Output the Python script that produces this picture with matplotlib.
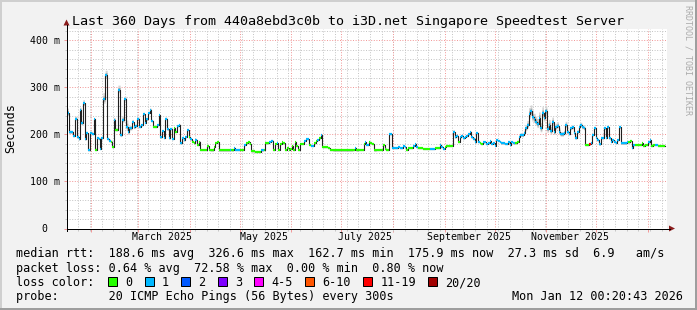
import numpy as np
import matplotlib
matplotlib.use("Agg")
import matplotlib.pyplot as plt
from matplotlib.lines import Line2D
from matplotlib.patches import Rectangle, Polygon
import matplotlib.transforms as mtransforms
from datetime import datetime, timedelta

W, H, DPI = 697, 310, 100

# ---------------- data ----------------
end_time = datetime(2026, 1, 12, 0, 20, 43)
span_days = 360
start_time = end_time - timedelta(days=span_days)

# start day (since start_time) of each consolidated step, median rtt (ms), lost pings (of 20), smoke spread (ms)
seg_day = [
    0.0, 1.2, 3.8, 4.8, 6.2, 7.2, 7.8, 8.8, 9.8, 10.8,
    11.8, 12.6, 13.8, 15.4, 16.2, 17.0, 18.0, 19.4, 20.2, 20.8,
    21.8, 23.2, 24.4, 25.4, 26.4, 27.4, 28.2, 29.2, 30.8, 32.2,
    33.2, 34.6, 35.8, 36.8, 37.6, 39.2, 40.2, 41.2, 42.2, 43.4,
    44.8, 45.8, 46.8, 47.8, 48.8, 49.8, 50.8, 51.8, 54.2, 55.4,
    56.2, 57.2, 58.2, 59.2, 60.2, 61.4, 62.2, 63.2, 64.2, 65.2,
    66.2, 67.2, 68.2, 69.2, 70.2, 71.2, 72.2, 73.2, 74.2, 75.2,
    76.2, 77.2, 78.2, 79.2, 80.2, 83.0, 84.2, 85.2, 86.2, 88.2,
    89.0, 90.0, 91.2, 97.8, 98.8, 100.2, 101.2, 102.8, 103.8, 106.4,
    107.4, 108.8, 109.8, 110.8, 112.8, 116.8, 118.2, 119.2, 121.4, 122.8,
    124.0, 125.0, 126.0, 127.0, 128.0, 129.0, 130.0, 131.0, 132.2, 133.2,
    134.2, 135.2, 136.0, 136.8, 137.8, 138.8, 139.8, 142.4, 143.4, 145.4,
    146.4, 148.4, 149.4, 150.4, 151.4, 152.4, 153.4, 154.4, 156.8, 157.8,
    159.8, 171.8, 172.8, 173.8, 174.8, 176.8, 178.2,
    178.8, 179.8, 181.2, 182.2, 183.2, 184.4, 185.8, 187.8, 189.8, 190.8,
    191.8, 193.2, 195.2, 198.8, 199.8, 201.8, 202.8, 203.8, 204.8, 207.8,
    208.8, 209.8, 210.8, 213.8, 217.8, 220.8, 223.8, 224.8, 225.8, 226.8,
    227.8, 231.8, 232.8, 233.8, 234.8, 235.8, 236.8, 237.8, 238.8, 239.8,
    240.8, 241.8, 242.8, 243.8, 244.8, 245.8, 246.8, 247.8, 248.8, 249.8,
    250.8, 251.8, 252.8, 253.8, 254.8, 255.8, 256.8, 257.8, 258.8, 259.8,
    260.8, 262.8, 264.8, 265.8, 266.8, 267.8,
    268.8, 270.2, 271.2, 272.2, 273.2, 274.2, 275.2, 276.2, 277.2, 278.2,
    279.2, 280.2, 281.2, 282.2, 283.2, 284.2, 285.2, 286.2, 287.2, 288.2,
    289.2, 290.2, 291.2, 292.2, 293.2, 294.2, 295.2, 296.2, 297.2, 298.2,
    299.2, 300.2, 301.2, 302.2, 303.2, 304.2, 305.2, 306.2, 307.2, 308.2,
    309.2, 310.2, 311.2, 313.2, 314.4, 315.4, 316.4, 317.4, 318.4, 319.4,
    320.4, 321.4, 322.4, 323.4, 324.4, 325.4, 326.4, 327.4, 328.4, 329.4,
    330.4, 331.4, 332.4, 336.0, 337.0, 338.0, 339.0, 340.0, 341.0, 344.0,
    345.0, 346.0, 347.0, 348.8, 349.8, 350.8, 351.8, 352.8, 354.8,
]
seg_ms = [
    246, 205, 197, 234, 194, 190, 252, 224, 266, 190,
    204, 167, 204, 201, 232, 168, 192, 191, 170, 192,
    275, 326.6, 191, 187, 185, 174, 231, 210, 295, 199,
    231, 275, 217, 206, 213, 227, 215, 218, 234, 217,
    220, 243, 225, 232, 246, 253, 229, 217, 220, 241,
    194, 207, 193, 234, 211, 192, 212, 191, 213, 206,
    218, 220, 181, 192, 188, 195, 210, 194, 190, 185,
    181, 188, 178, 184, 167, 168, 175, 168, 166, 173,
    182, 185, 166, 168, 166, 171, 168, 167, 167, 178,
    181, 183, 180, 164, 163, 166, 168, 181, 185, 187,
    168, 180, 181, 168, 180, 183, 181, 168, 171, 167,
    170, 176, 167, 184, 176, 168, 180, 187, 190, 178,
    176, 181, 187, 188, 192, 198, 174, 173, 171, 167,
    166, 168, 171, 166, 167, 168, 180,
    183, 178, 183, 181, 180, 166, 167, 168, 178, 170,
    168, 201, 171, 174, 171, 176, 173, 168, 171, 176,
    180, 174, 171, 170, 170, 171, 177, 174, 170, 174,
    176, 206, 194, 197, 184, 194, 197, 192, 195, 197,
    201, 205, 194, 191, 183, 203, 184, 181, 180, 183,
    184, 180, 181, 186, 180, 181, 176, 188, 187, 184,
    181, 180, 183, 177, 184, 181,
    181, 185, 195, 199, 198, 203, 213, 220, 243, 249,
    237, 233, 227, 222, 236, 213, 245, 236, 249, 212,
    220, 207, 227, 205, 216, 219, 206, 200, 200, 203,
    220, 205, 202, 213, 215, 203, 193, 205, 216, 220,
    215, 213, 178, 179, 181, 199, 213, 193, 188, 179,
    193, 192, 213, 193, 215, 192, 185, 188, 185, 182,
    188, 215, 181, 183, 183, 186, 171, 178, 178, 178,
    181, 176, 178, 183, 188, 176, 178, 178, 175.9,
]
seg_loss = [
    1, 1, 1, 1, 1, 1, 1, 1, 1, 1,
    1, 1, 1, 1, 1, 0, 1, 1, 1, 1,
    1, 1, 1, 1, 0, 0, 1, 0, 1, 1,
    1, 1, 1, 1, 1, 1, 1, 1, 1, 1,
    1, 1, 1, 1, 1, 1, 1, 0, 1, 1,
    1, 1, 1, 1, 1, 1, 1, 1, 0, 0,
    1, 1, 1, 1, 1, 1, 1, 0, 1, 0,
    0, 1, 0, 0, 0, 0, 0, 0, 0, 0,
    0, 0, 0, 1, 0, 1, 1, 1, 0, 1,
    0, 0, 0, 0, 0, 1, 0, 0, 1, 1,
    0, 0, 1, 0, 0, 0, 0, 0, 0, 0,
    0, 0, 0, 0, 0, 0, 0, 1, 1, 0,
    1, 0, 0, 1, 0, 1, 0, 0, 0, 0,
    0, 0, 1, 0, 0, 0, 0,
    1, 1, 0, 0, 0, 0, 0, 0, 0, 0,
    0, 1, 1, 1, 1, 1, 1, 0, 0, 1,
    1, 1, 0, 0, 1, 0, 1, 1, 1, 0,
    0, 1, 1, 1, 0, 1, 1, 1, 1, 1,
    1, 1, 1, 1, 1, 1, 1, 0, 0, 1,
    1, 1, 1, 1, 1, 1, 1, 1, 1, 1,
    1, 1, 1, 1, 1, 1,
    0, 0, 1, 1, 1, 1, 1, 1, 1, 1,
    1, 1, 1, 1, 1, 1, 1, 1, 1, 1,
    1, 1, 1, 1, 1, 1, 1, 1, 1, 1,
    1, 1, 1, 1, 1, 1, 1, 1, 1, 1,
    1, 1, 0, 12, 1, 1, 1, 1, 1, 1,
    1, 1, 1, 1, 1, 1, 1, 1, 1, 1,
    1, 1, 1, 1, 0, 0, 1, 1, 0, 0,
    0, 0, 0, 1, 1, 0, 0, 1, 0,
]
seg_smoke = [
    10, 4, 3, 5, 3, 3, 6, 5, 8, 3,
    3, 3, 3, 3, 4, 3, 3, 3, 3, 3,
    14, 10, 3, 3, 3, 3, 5, 4, 10, 6,
    8, 6, 14, 10, 6, 5, 4, 4, 4, 3,
    3, 4, 3, 3, 3, 3, 3, 3, 3, 3,
    3, 3, 3, 3, 3, 3, 3, 3, 3, 3,
    3, 3, 3, 3, 3, 3, 3, 3, 3, 3,
    3, 3, 3, 3, 2, 2, 2, 2, 2, 2,
    2, 2, 2, 2, 2, 2, 2, 2, 2, 2,
    2, 2, 2, 2, 2, 2, 2, 2, 2, 2,
    2, 2, 2, 2, 2, 2, 2, 2, 2, 2,
    2, 2, 2, 2, 2, 2, 2, 2, 2, 2,
    2, 2, 2, 2, 2, 2, 2, 2, 2, 2,
    2, 2, 2, 2, 2, 2, 2,
    2, 2, 2, 2, 2, 2, 2, 2, 2, 2,
    2, 3, 2, 2, 2, 2, 2, 2, 2, 2,
    2, 2, 2, 2, 2, 2, 2, 2, 2, 2,
    2, 4, 3, 3, 2, 3, 3, 3, 3, 3,
    3, 3, 3, 3, 2, 3, 2, 2, 2, 2,
    2, 2, 2, 2, 2, 2, 2, 2, 2, 2,
    2, 2, 2, 2, 2, 2,
    2, 3, 4, 5, 5, 6, 8, 10, 14, 14,
    14, 12, 12, 12, 12, 12, 14, 12, 12, 12,
    12, 10, 10, 8, 8, 8, 8, 6, 6, 6,
    8, 6, 5, 5, 5, 5, 5, 5, 6, 6,
    5, 5, 3, 3, 3, 3, 3, 3, 3, 3,
    3, 3, 3, 3, 3, 3, 3, 3, 3, 3,
    3, 3, 3, 2, 2, 2, 2, 2, 2, 2,
    2, 2, 2, 2, 2, 2, 2, 2, 2,
]
data_end_day = 359.3

loss_labels = ["0", "1", "2", "3", "4-5", "6-10", "11-19", "20/20"]
loss_upper = [0, 1, 2, 3, 5, 10, 19, 20]
loss_colors = ["#26ff00", "#00b8ff", "#0059ff", "#7e00ff",
               "#ff00ff", "#ff5500", "#ff0000", "#a10000"]

month_label_text = ["March 2025", "May 2025", "July 2025", "September 2025", "November 2025"]
month_label_ym = [(2025, 3), (2025, 5), (2025, 7), (2025, 9), (2025, 11)]
y_ticks = [0, 100, 200, 300, 400]
y_tick_text = ["  0", "100 m", "200 m", "300 m", "400 m"]

title = "Last 360 Days from 440a8ebd3c0b to i3D.net Singapore Speedtest Server"
row_rtt = "median rtt:  188.6 ms avg  326.6 ms max  162.7 ms min  175.9 ms now  27.3 ms sd  6.9   am/s"
row_loss = "packet loss: 0.64 % avg  72.58 % max  0.00 % min  0.80 % now"
row_color = "loss color:"
row_probe = "probe:       20 ICMP Echo Pings (56 Bytes) every 300s"
stamp = "Mon Jan 12 00:20:43 2026"
watermark = "RRDTOOL / TOBI OETIKER"

# ---------------- drawing ----------------
MONO = ["DejaVu Sans Mono"]
plt.rcParams["font.family"] = MONO

fig = plt.figure(figsize=(W / DPI, H / DPI), dpi=DPI, facecolor="#f2f2f2")

def fx(x):
    return x / W

def fy(y):
    return 1 - y / H

def ptxt(x, y, s, **kw):
    fig.text(fx(x), fy(y), s, **kw)

X0, Y0, PW, PH = 66.5, 228.5, 600, 200
ax = fig.add_axes([fx(X0), fy(Y0), PW / W, PH / H])
ax.set_facecolor("white")
ymax = 425.5
ax.set_xlim(0, span_days)
ax.set_ylim(0, ymax)
for s in ax.spines.values():
    s.set_visible(False)

def day_of(dt):
    return (dt - start_time).total_seconds() / 86400.0

month_starts = []
y, m = 2025, 2
while True:
    d = day_of(datetime(y, m, 1))
    if d > span_days:
        break
    month_starts.append(d)
    m += 1
    if m > 12:
        m, y = 1, y + 1
week_lines = [7 * k for k in range(1, 52)]

GRID = "#c6c6c6"
MGRID = "#f29a9a"
px = 72.0 / DPI
DOT = (0.5, (1, 1.6))
for d in week_lines:
    ax.axvline(d, color=GRID, lw=px, ls=DOT, zorder=0.5)
for v in range(20, int(ymax), 20):
    if v % 100:
        ax.axhline(v, color=GRID, lw=px, ls=DOT, zorder=0.5)
for d in month_starts:
    ax.axvline(d, color=MGRID, lw=px, ls=DOT, zorder=0.6)
for v in y_ticks[1:]:
    ax.axhline(v, color=MGRID, lw=px, ls=DOT, zorder=0.6)

# ticks as grid extensions
ax.set_xticks(month_starts)
ax.set_xticks(week_lines, minor=True)
ax.set_yticks(y_ticks)
ax.set_yticks([v for v in range(20, int(ymax), 20) if v % 100], minor=True)
ax.tick_params(which="major", direction="out", length=3 * px, width=px, color=MGRID,
               labelbottom=False, labelleft=False)
ax.tick_params(which="minor", direction="out", length=2 * px, width=px, color=GRID)

# data
days = np.array(seg_day + [data_end_day])
vals = np.array(seg_ms, dtype=float)
smoke = np.array(seg_smoke, dtype=float)
vals_ext = np.append(vals, vals[-1])
smoke_ext = np.append(smoke, smoke[-1])

ax.fill_between(days, vals_ext - 0.6 * smoke_ext, vals_ext + smoke_ext, step="post",
                color="#d4d4d4", lw=0, zorder=1)
ax.fill_between(days, vals_ext - 0.3 * smoke_ext, vals_ext + 0.5 * smoke_ext, step="post",
                color="#a8a8a8", lw=0, zorder=1.1)
ax.step(days, vals_ext, where="post", color="#202020", lw=1.1 * px, zorder=2)

def loss_color(n):
    for up, c in zip(loss_upper, loss_colors):
        if n <= up:
            return c
    return loss_colors[-1]

ax.hlines(vals, days[:-1], days[1:], colors=[loss_color(n) for n in seg_loss],
          lw=2.2 * px, zorder=3)

# axes lines with arrows
AX = "#000000"
ARR = "#8a1c1c"
fig.add_artist(Line2D([fx(X0), fx(X0 + PW + 3)], [fy(Y0), fy(Y0)], color=AX, lw=px))
fig.add_artist(Line2D([fx(X0), fx(X0)], [fy(Y0 + 2), fy(Y0 - PH - 4)], color=AX, lw=px))
fig.add_artist(Polygon([[fx(X0 + PW + 2.5), fy(Y0 - 3)], [fx(X0 + PW + 2.5), fy(Y0 + 3)],
                        [fx(X0 + PW + 8.5), fy(Y0)]], closed=True, color=ARR, lw=0))
fig.add_artist(Polygon([[fx(X0 - 3), fy(Y0 - PH - 3)], [fx(X0 + 3), fy(Y0 - PH - 3)],
                        [fx(X0), fy(Y0 - PH - 9)]], closed=True, color=ARR, lw=0))

# y labels
ytrans = mtransforms.offset_copy(ax.get_yaxis_transform(), fig=fig, x=0, y=-3.6, units="dots")
for v, t in zip(y_ticks, y_tick_text):
    ax.text((30 - X0) / PW, v, t, transform=ytrans, ha="left", va="baseline",
            fontsize=7.1, color="#000000", clip_on=False)

# x labels
for (yy, mm), t in zip(month_label_ym, month_label_text):
    d = day_of(datetime(yy, mm, 15, 6))
    ax.text(d, -(240.5 - Y0) / PH, t, transform=ax.get_xaxis_transform(),
            ha="center", va="baseline", fontsize=7.1, color="#000000", clip_on=False)

# title, unit, watermark
ptxt(W / 2, 25, title, ha="center", va="baseline", fontsize=9.6, color="#000000")
ptxt(11, Y0 - PH / 2, "Seconds", rotation=90, ha="center", va="center", fontsize=8.5, color="#000000")
ptxt(688, 60, watermark, rotation=270, ha="center", va="center", fontsize=6.0, color="#ababab")

# legend
LX = 16.4
CW = 7.12
LFS = 8.5
rows_y = [257.5, 271.8, 286.1, 300.4]
ptxt(LX, rows_y[0], row_rtt, ha="left", va="baseline", fontsize=LFS)
ptxt(LX, rows_y[1], row_loss, ha="left", va="baseline", fontsize=LFS)
ptxt(LX, rows_y[2], row_color, ha="left", va="baseline", fontsize=LFS)
ptxt(LX, rows_y[3], row_probe, ha="left", va="baseline", fontsize=LFS)
ptxt(683, rows_y[3], stamp, ha="right", va="baseline", fontsize=LFS)

bx = 108.0
box = 9.0
for lab, col in zip(loss_labels, loss_colors):
    cy = rows_y[2] - 4.2
    fig.add_artist(Rectangle((fx(bx), fy(cy + box / 2)), box / W, box / H,
                             facecolor=col, edgecolor="#000000", lw=px))
    lx = bx + 17
    ptxt(lx, rows_y[2], lab, ha="left", va="baseline", fontsize=LFS)
    bx = lx + len(lab) * CW + 12.5

# frame shading
fig.add_artist(Rectangle((0, fy(2)), 1, 2 / H, facecolor="#cfcfcf", lw=0))
fig.add_artist(Rectangle((0, 0), 2 / W, 1, facecolor="#cfcfcf", lw=0))
fig.add_artist(Rectangle((0, 0), 1, 2.5 / H, facecolor="#9e9e9e", lw=0))
fig.add_artist(Rectangle((1 - 2.5 / W, 0), 2.5 / W, 1, facecolor="#9e9e9e", lw=0))

fig.savefig("out.png", dpi=DPI, facecolor=fig.get_facecolor())
